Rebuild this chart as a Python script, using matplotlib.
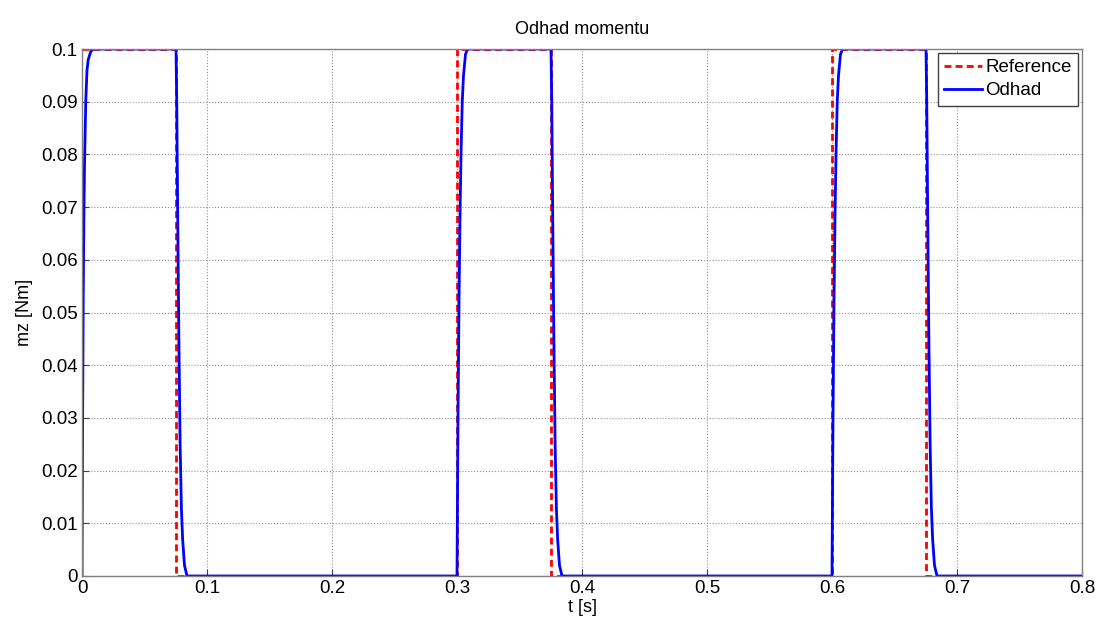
import matplotlib
matplotlib.use("Agg")
import matplotlib.pyplot as plt

# Reference square wave (step edges)
ref_t = [0.0, 0.075, 0.075, 0.300, 0.300, 0.375, 0.375, 0.600, 0.600, 0.675, 0.675, 0.8]
ref_v = [0.1, 0.1, 0.0, 0.0, 0.1, 0.1, 0.0, 0.0, 0.1, 0.1, 0.0, 0.0]

# Estimate (Odhad)
odhad_t = [0.0, 0.0005, 0.001, 0.0015, 0.002, 0.003, 0.004, 0.005, 0.007, 0.009,
           0.0752, 0.0758, 0.0765, 0.0775, 0.0785, 0.0795, 0.0805, 0.0820, 0.0840,
           0.3000, 0.3008, 0.3016, 0.3024, 0.3032, 0.3042, 0.3052, 0.3068, 0.3085,
           0.3752, 0.3758, 0.3765, 0.3775, 0.3785, 0.3795, 0.3805, 0.3820, 0.3840,
           0.6000, 0.6008, 0.6016, 0.6024, 0.6032, 0.6042, 0.6052, 0.6068, 0.6085,
           0.6752, 0.6758, 0.6765, 0.6775, 0.6785, 0.6795, 0.6805, 0.6820, 0.6840,
           0.8]
odhad_v = [0.0, 0.030, 0.053, 0.068, 0.078, 0.090, 0.096, 0.098, 0.0995, 0.1,
           0.1, 0.090, 0.070, 0.045, 0.025, 0.013, 0.007, 0.002, 0.0,
           0.0, 0.030, 0.052, 0.068, 0.080, 0.090, 0.095, 0.099, 0.1,
           0.1, 0.090, 0.070, 0.045, 0.025, 0.013, 0.007, 0.002, 0.0,
           0.0, 0.030, 0.052, 0.068, 0.080, 0.090, 0.095, 0.099, 0.1,
           0.1, 0.090, 0.070, 0.045, 0.025, 0.013, 0.007, 0.002, 0.0,
           0.0]

x_ticks = [0, 0.1, 0.2, 0.3, 0.4, 0.5, 0.6, 0.7, 0.8]
x_labels = ["0", "0.1", "0.2", "0.3", "0.4", "0.5", "0.6", "0.7", "0.8"]
y_ticks = [0, 0.01, 0.02, 0.03, 0.04, 0.05, 0.06, 0.07, 0.08, 0.09, 0.1]
y_labels = ["0", "0.01", "0.02", "0.03", "0.04", "0.05", "0.06", "0.07", "0.08", "0.09", "0.1"]

plt.rcParams['font.family'] = ['Liberation Sans', 'DejaVu Sans']

fig = plt.figure(figsize=(11.01, 6.22), dpi=100)
ax = fig.add_axes([82/1101, 1-576/622, 1000/1101, 527/622])

ax.plot(ref_t, ref_v, color='red', linestyle='--', linewidth=2, label='Reference', dashes=(2.5, 1.5))
ax.plot(odhad_t, odhad_v, color='blue', linewidth=2, label='Odhad')

ax.set_xlim(0, 0.8)
ax.set_ylim(0, 0.1)
ax.set_xticks(x_ticks)
ax.set_xticklabels(x_labels)
ax.set_yticks(y_ticks)
ax.set_yticklabels(y_labels)
ax.tick_params(direction='in', length=5, labelsize=13.5, colors='#404040', labelcolor='black', pad=3)
ax.grid(True, color='#909090', linestyle=':', linewidth=0.8)
for s in ax.spines.values():
    s.set_color('#808080')
    s.set_linewidth(1)

ax.set_title('Odhad momentu', fontsize=13, pad=11)
ax.set_xlabel('t [s]', fontsize=13, labelpad=1)
ax.set_ylabel('mz [Nm]', fontsize=13, labelpad=6)

leg = ax.legend(loc='upper right', fontsize=13.5, handlelength=2.0, handletextpad=0.2,
                borderpad=0.35, labelspacing=0.3, fancybox=False, framealpha=1,
                borderaxespad=0.2)
leg.get_frame().set_edgecolor('#404040')
leg.get_frame().set_linewidth(1)

fig.savefig('out.png', dpi=100)
